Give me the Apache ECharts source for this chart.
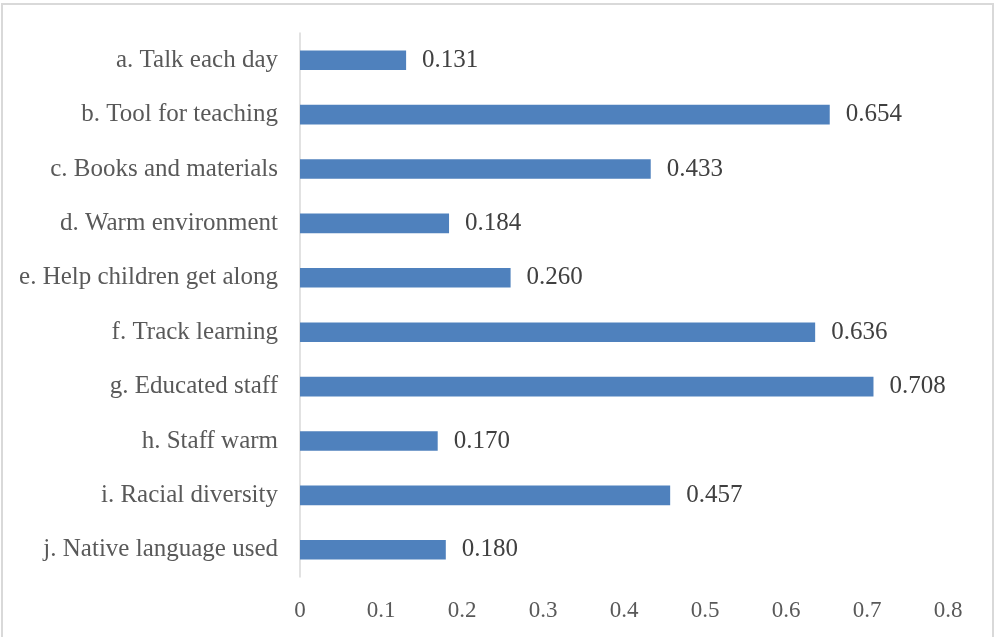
<!DOCTYPE html>
<html>
<head>
<meta charset="utf-8">
<script src="https://cdn.jsdelivr.net/npm/echarts@6/dist/echarts.min.js"></script>
<style>html,body{margin:0;padding:0;background:#fff}#c{width:995px;height:637px}</style>
</head>
<body>
<div id="c"></div>
<script>
var categories = ["a. Talk each day","b. Tool for teaching","c. Books and materials","d. Warm environment","e. Help children get along","f. Track learning","g. Educated staff","h. Staff warm","i. Racial diversity","j. Native language used"];
var values = [0.131,0.654,0.433,0.184,0.260,0.636,0.708,0.170,0.457,0.180];
var xTicks = [0,0.1,0.2,0.3,0.4,0.5,0.6,0.7,0.8];

var font = "'Liberation Serif', 'DejaVu Serif', serif";
var chart = echarts.init(document.getElementById('c'));
chart.setOption({
  animation: false,
  backgroundColor: '#ffffff',
  graphic: [{
    type: 'rect', shape: {x: 2, y: 4, width: 991, height: 640},
    style: {fill: 'none', stroke: '#D9D9D9', lineWidth: 2}, silent: true, z: -1
  }],
  grid: {left: 300, right: 47, top: 33, bottom: 60, containLabel: false},
  xAxis: {
    type: 'value', min: xTicks[0], max: xTicks[xTicks.length-1], interval: 0.1,
    axisLine: {show: false}, axisTick: {show: false}, splitLine: {show: false},
    axisLabel: {
      color: '#595959', fontFamily: font, fontSize: 23, margin: 22,
      formatter: function (v) { var r = Math.round(v*10)/10; return r === 0 ? '0' : String(r); }
    }
  },
  yAxis: {
    type: 'category', data: categories, inverse: true,
    axisLine: {show: true, lineStyle: {color: '#D9D9D9', width: 1.5}},
    axisTick: {show: false},
    axisLabel: {color: '#595959', fontFamily: font, fontSize: 25, margin: 22, padding: [3, 0, 0, 0]}
  },
  series: [{
    type: 'bar', data: values, barWidth: '36%',
    itemStyle: {color: '#4F81BD'},
    label: {
      show: true, position: 'right', distance: 16,
      color: '#404040', fontFamily: font, fontSize: 25, padding: [3, 0, 0, 0],
      formatter: function (p) { return p.value.toFixed(3); }
    }
  }]
});
</script>
</body>
</html>
